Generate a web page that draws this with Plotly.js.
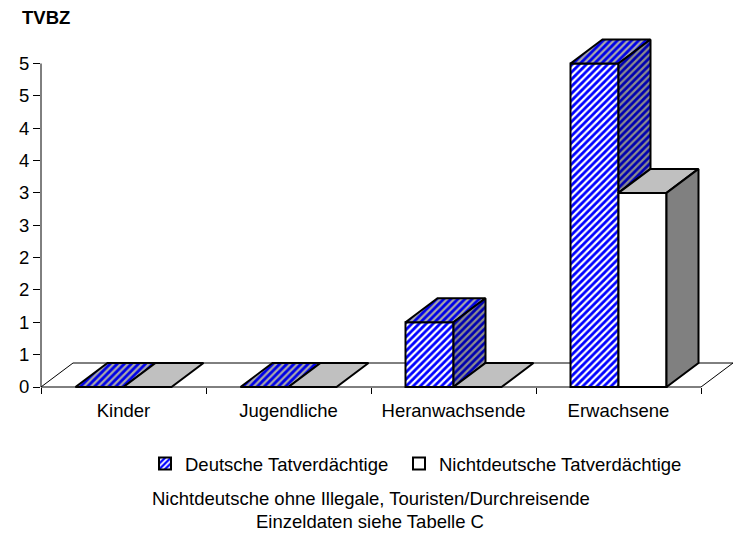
<!DOCTYPE html>
<html><head><meta charset="utf-8">
<script src="https://cdn.plot.ly/plotly-3.0.1.min.js"></script>
<style>html,body{margin:0;padding:0;background:#fff}#chart{width:733px;height:534px}</style>
</head><body><div id="chart"></div>
<script>
// ---- data ----
const categories = ['Kinder', 'Jugendliche', 'Heranwachsende', 'Erwachsene'];
const deutsche = [0, 0, 1, 5];
const nichtdeutsche = [0, 0, 0, 3];
const seriesNames = ['Deutsche Tatverdächtige', 'Nichtdeutsche Tatverdächtige'];
const yTickVals = [0, 0.5, 1, 1.5, 2, 2.5, 3, 3.5, 4, 4.5, 5];
const yTickText = ['0', '1', '1', '2', '2', '3', '3', '4', '4', '5', '5'];
const yAxisTitle = 'TVBZ';
const notes = ['Nichtdeutsche ohne Illegale, Touristen/Durchreisende', 'Einzeldaten siehe Tabelle C'];

// ---- geometry / style ----
const W = 733, H = 534;
const M = {l: 41, r: 0, t: 30, b: 137};
const plotW = W - M.l - M.r, plotH = H - M.t - M.b;
const pxPerX = 165, pxPerY = 64.7, zeroPx = 387;
const xRange = [-0.5, -0.5 + plotW / pxPerX];
const yRange = [-(M.t + plotH - zeroPx) / pxPerY, (zeroPx - M.t) / pxPerY];
const dX = 32 / pxPerX, dY = 24 / pxPerY;
const barW = 48 / pxPerX;
const FONT = 'Liberation Sans, Arial, sans-serif';
const FS = 18.5;
const px2paperX = p => (p - M.l) / plotW;
const px2paperY = p => (M.t + plotH - p) / plotH;
const nCat = categories.length;
const idx = categories.map((c, i) => i);

function poly(pts, xs, ys) {
  pts.forEach(p => { xs.push(p[0]); ys.push(p[1]); });
  xs.push(pts[0][0]); ys.push(pts[0][1]);
  xs.push(null); ys.push(null);
}
const dTop = {x: [], y: []}, dSide = {x: [], y: []}, nTop = {x: [], y: []}, nSide = {x: [], y: []};
idx.forEach(i => {
  const v = deutsche[i], vr = nichtdeutsche[i];
  let x0 = i - barW, x1 = i;
  poly([[x0, v], [x1, v], [x1 + dX, v + dY], [x0 + dX, v + dY]], dTop.x, dTop.y);
  if (v > vr) poly([[x1, vr], [x1, v], [x1 + dX, v + dY], [x1 + dX, vr + dY]], dSide.x, dSide.y);
  x0 = i; x1 = i + barW;
  poly([[x0, vr], [x1, vr], [x1 + dX, vr + dY], [x0 + dX, vr + dY]], nTop.x, nTop.y);
  if (vr > 0) poly([[x1, 0], [x1, vr], [x1 + dX, vr + dY], [x1 + dX, dY]], nSide.x, nSide.y);
});

const edge = {color: '#000', width: 2};
const pat = (fg, bg) => ({shape: '/', fgcolor: fg, bgcolor: bg, size: 5, solidity: 0.55, fillmode: 'replace'});
const face = (d, extra) => Object.assign({type: 'scatter', mode: 'lines', x: d.x, y: d.y, fill: 'toself',
  line: edge, showlegend: false, hoverinfo: 'skip'}, extra);

const traces = [
  {type: 'bar', name: seriesNames[0], x: idx, y: deutsche, width: barW, offset: -barW,
   marker: {color: '#ffffff', pattern: pat('#0000ff', '#ffffff'), line: edge}, legend: 'legend'},
  {type: 'bar', name: seriesNames[1], x: idx, y: nichtdeutsche, width: barW, offset: 0,
   marker: {color: '#ffffff', line: edge}, legend: 'legend2'},
  face(dTop, {fillcolor: '#a8a8a8', fillpattern: pat('#0000e6', '#a8a8a8')}),
  face(dSide, {fillcolor: '#808080', fillpattern: pat('#0000b0', '#8c8c8c')}),
  face(nTop, {fillcolor: '#c0c0c0'}),
  face(nSide, {fillcolor: '#808080'})
];

const legendBase = {orientation: 'h', xref: 'container', yref: 'container', xanchor: 'left', yanchor: 'middle',
  y: 1 - 464 / H, font: {family: FONT, size: FS, color: '#000'}, bgcolor: 'rgba(0,0,0,0)', borderwidth: 0};

const floorPath = `M ${xRange[0]},0 L ${nCat - 0.5},0 L ${nCat - 0.5 + dX},${dY} L ${xRange[0] + dX},${dY} Z`;

const layout = {
  width: W, height: H, margin: M, paper_bgcolor: '#fff', plot_bgcolor: 'rgba(0,0,0,0)',
  font: {family: FONT, size: FS, color: '#000'},
  barmode: 'overlay', showlegend: true,
  xaxis: {range: xRange, anchor: 'free', position: (M.t + plotH - zeroPx) / plotH,
    tickmode: 'array', tickvals: idx, ticktext: categories, ticks: '', showline: false,
    showgrid: false, zeroline: false, fixedrange: true, ticklabelstandoff: 10,
    minor: {tickmode: 'array', tickvals: idx.concat([nCat]).map(i => i - 0.5), ticks: 'outside', ticklen: 6,
      tickcolor: '#000', tickwidth: 1, showgrid: false},
    tickfont: {family: FONT, size: FS, color: '#000'}},
  yaxis: {range: yRange, tickmode: 'array', tickvals: yTickVals, ticktext: yTickText, ticks: 'outside',
    ticklen: 7, tickcolor: '#000', tickwidth: 1, showline: false, showgrid: false, zeroline: false,
    fixedrange: true, tickfont: {family: FONT, size: FS, color: '#000'}},
  legend: Object.assign({}, legendBase, {x: 145 / W}),
  legend2: Object.assign({}, legendBase, {x: 399 / W}),
  shapes: [
    {type: 'path', xref: 'x', yref: 'y', layer: 'below', path: floorPath,
     fillcolor: '#ffffff', line: {color: '#000', width: 1}},
    {type: 'line', xref: 'paper', yref: 'y', x0: 0, x1: 0, y0: 0, y1: yTickVals[yTickVals.length - 1],
     line: {color: '#000', width: 1}, layer: 'below'}
  ],
  annotations: [
    {text: '<b>' + yAxisTitle + '</b>', xref: 'paper', yref: 'paper', x: px2paperX(20), y: px2paperY(17),
     xanchor: 'left', yanchor: 'middle', showarrow: false, font: {family: FONT, size: FS, color: '#000'}},
    {text: notes[0], xref: 'paper', yref: 'paper', x: px2paperX(371), y: px2paperY(499),
     xanchor: 'center', yanchor: 'middle', showarrow: false, font: {family: FONT, size: FS, color: '#000'}},
    {text: notes[1], xref: 'paper', yref: 'paper', x: px2paperX(370), y: px2paperY(521),
     xanchor: 'center', yanchor: 'middle', showarrow: false, font: {family: FONT, size: FS, color: '#000'}}
  ]
};

Plotly.newPlot('chart', traces, layout, {staticPlot: true, displayModeBar: false});
</script></body></html>
